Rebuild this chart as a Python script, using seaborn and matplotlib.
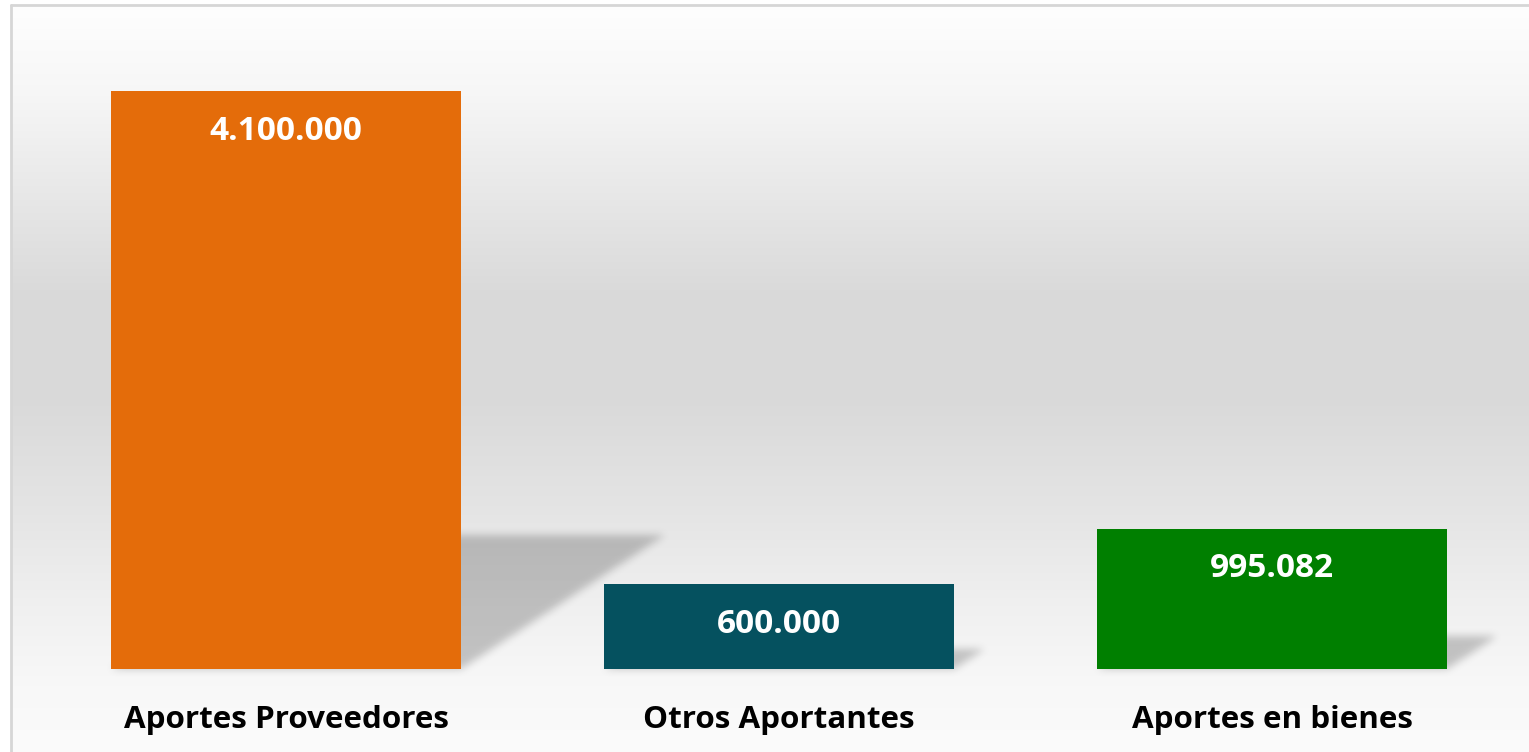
import numpy as np
import matplotlib
matplotlib.use("Agg")
import matplotlib.pyplot as plt
import seaborn as sns
import pandas as pd
from matplotlib.path import Path
from matplotlib.lines import Line2D

# ---- data ----
categories = ["Aportes Proveedores", "Otros Aportantes", "Aportes en bienes"]
values = [4100000, 600000, 995082]
colors = ["#E46C0A", "#05515F", "#007F00"]

sns.set_theme(style="white")
plt.rcParams['font.family'] = ['Open Sans', 'DejaVu Sans']

W, H = 1529, 752
fig = plt.figure(figsize=(W / 100, H / 100), dpi=100)
fig.patch.set_facecolor("white")

# ---- background gradient (decorative) ----
bg = fig.add_axes([12 / W, 0, (W - 12) / W, (H - 6) / H], zorder=-10)
ys = np.arange(0, H - 6)
stops_y = [0, 90, 200, 290, 400, 500, 600, 680, 746]
stops_c = [254, 246, 230, 217, 218, 228, 240, 248, 251]
g = np.interp(ys, stops_y, stops_c) / 255.0
img = np.repeat(g[:, None], 3, axis=1)[:, None, :]
bg.imshow(img, aspect="auto", extent=[0, 1, 0, 1], interpolation="bilinear")
bg.axis("off")

# border
fig.add_artist(Line2D([11 / W, 11 / W], [0, (H - 5) / H], color="#d6d6d6", lw=2,
                      transform=fig.transFigure))
fig.add_artist(Line2D([11 / W, 1], [(H - 5) / H, (H - 5) / H], color="#d6d6d6", lw=2,
                      transform=fig.transFigure))

# ---- main axes ----
ymax = 4.5e6
px_per_val = 578 / 4.1e6
axh = ymax * px_per_val
ax = fig.add_axes([39.5 / W, 83 / H, 1479 / W, axh / H])
ax.patch.set_alpha(0)

df = pd.DataFrame({"cat": categories, "val": values})
sns.barplot(data=df, x="cat", y="val", hue="cat", palette=colors, width=0.71,
            saturation=1, legend=False, ax=ax, zorder=3, linewidth=0)
ax.set_xlim(-0.5, 2.5)
ax.set_ylim(0, ymax)

# ---- soft perspective shadows (decorative, derived from bar geometry) ----
px_per_cat = 1479 / 3
yy, xx = np.mgrid[0:H, 0:W]
pts = np.column_stack([xx.ravel() + 0.5, H - yy.ravel() - 0.5])
mask = np.zeros(H * W)
for p, v in zip(ax.patches, values):
    left = p.get_x()
    right = left + p.get_width()
    hpx = v * px_per_val
    dx = 0.353 * hpx / px_per_cat
    sh = 0.232 * v
    verts = [(left, 0), (right, 0), (right + dx, sh), (left + dx, sh)]
    path = Path(ax.transData.transform(verts))
    mask = np.maximum(mask, path.contains_points(pts).astype(float))
mask = mask.reshape(H, W)
sig = 4.0
kx = np.arange(-14, 15)
k = np.exp(-kx ** 2 / (2 * sig ** 2))
k /= k.sum()
mask = np.array([np.convolve(r, k, mode="same") for r in mask])
mask = np.array([np.convolve(c, k, mode="same") for c in mask.T]).T
shadow = np.zeros((H, W, 4))
shadow[..., 3] = 0.21 * mask
sax = fig.add_axes([0, 0, 1, 1], zorder=-5)
sax.imshow(shadow, extent=[0, W, 0, H], aspect="auto", interpolation="nearest")
sax.axis("off")

# ---- value labels ----
for p, v in zip(ax.patches[:3], values):
    ax.annotate(f"{v:,.0f}".replace(",", "."),
                xy=(p.get_x() + p.get_width() / 2, v), xytext=(0, -40 * 0.72),
                textcoords="offset points", ha="center", va="center",
                color="white", fontsize=24, fontweight="bold", zorder=5)

# ---- axis styling ----
ax.set_xlabel("")
ax.set_ylabel("")
ax.set_yticks([])
for s in ax.spines.values():
    s.set_visible(False)
ax.tick_params(axis="x", length=0, pad=51 * 0.72)
for lab in ax.get_xticklabels():
    lab.set_fontsize(22.6)
    lab.set_fontweight("bold")
    lab.set_color("black")
    lab.set_va("center")

fig.savefig("out.png", dpi=100)
